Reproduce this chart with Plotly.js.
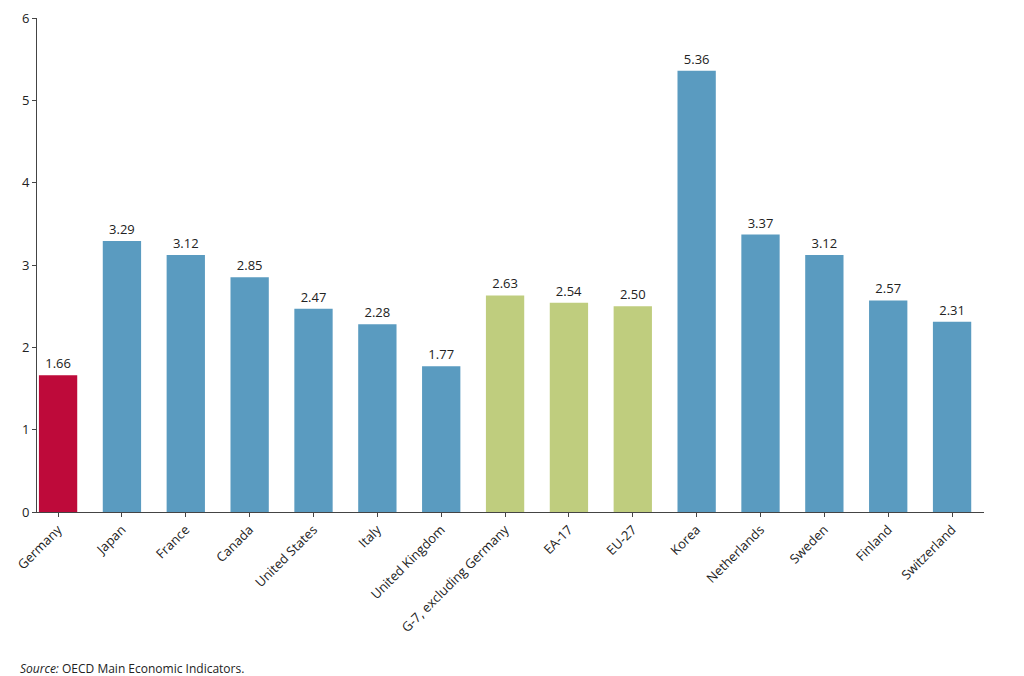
<!DOCTYPE html>
<html>
<head>
<meta charset="utf-8">
<script src="https://cdn.plot.ly/plotly-3.0.1.min.js"></script>
<style>body{margin:0;background:#fff}#chart{width:1024px;height:676px}</style>
</head>
<body>
<div id="chart"></div>
<script>
const categories = ["Germany", "Japan", "France", "Canada", "United States", "Italy", "United Kingdom",
    "G-7, excluding Germany", "EA-17", "EU-27", "Korea", "Netherlands", "Sweden", "Finland", "Switzerland"];
const values = [1.66, 3.29, 3.12, 2.85, 2.47, 2.28, 1.77, 2.63, 2.54, 2.50, 5.36, 3.37, 3.12, 2.57, 2.31];
const groups = ["de", "c", "c", "c", "c", "c", "c", "agg", "agg", "agg", "c", "c", "c", "c", "c"];

const palette = { de: "#BE0A3A", c: "#5A9BC0", agg: "#BFCD7E" };
const font = "Open Sans, Liberation Sans, sans-serif";

const trace = {
    type: "bar",
    x: categories,
    y: values,
    width: 0.6,
    marker: { color: groups.map(g => palette[g]) },
    text: values.map(v => v.toFixed(2)),
    textposition: "outside",
    cliponaxis: false,
    textfont: { size: 13, color: "#222", family: font },
    hoverinfo: "skip"
};

const layout = {
    width: 1024,
    height: 676,
    margin: { l: 37, r: 40, t: 18, b: 164 },
    paper_bgcolor: "#fff",
    plot_bgcolor: "#fff",
    font: { family: font, size: 13, color: "#222" },
    showlegend: false,
    bargap: 0.4,
    xaxis: {
        type: "category",
        range: [-0.33, 14.5],
        tickangle: -45,
        showline: true,
        linecolor: "#444",
        ticks: "outside",
        ticklen: 4,
        tickcolor: "#444",
        showgrid: false,
        tickfont: { size: 13, family: font }
    },
    yaxis: {
        range: [0, 6],
        dtick: 1,
        showline: true,
        linecolor: "#444",
        ticks: "outside",
        ticklen: 4,
        tickcolor: "#444",
        showgrid: false,
        zeroline: false,
        tickfont: { size: 13, family: font }
    },
    annotations: [{
        text: "<i>Source:</i> OECD Main Economic Indicators.",
        xref: "paper", yref: "paper",
        x: -0.02, y: -0.295, xanchor: "left", yanchor: "top",
        showarrow: false,
        font: { size: 12, family: font, color: "#222" }
    }]
};

Plotly.newPlot("chart", [trace], layout, { displayModeBar: false });
</script>
</body>
</html>
